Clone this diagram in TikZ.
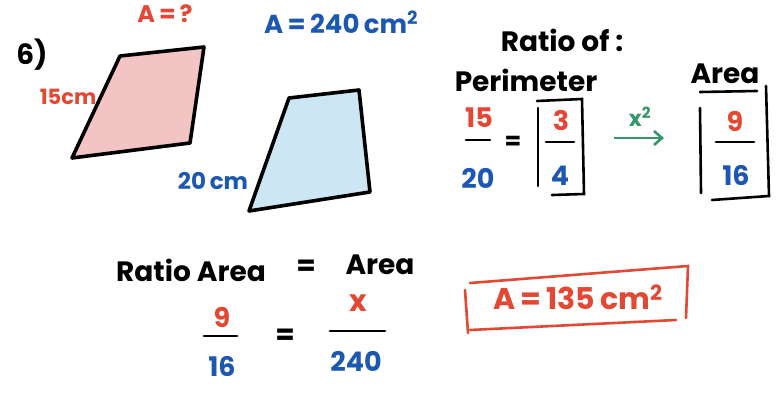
\documentclass[tikz,border=0pt]{standalone}
\usepackage{fontspec}
\setmainfont{Poppins}
\usetikzlibrary{arrows.meta}
\definecolor{mred}{RGB}{226,72,52}
\definecolor{mblue}{RGB}{28,88,178}
\definecolor{mgreen}{RGB}{52,150,104}
\definecolor{pinkfill}{RGB}{242,196,196}
\definecolor{bluefill}{RGB}{204,230,244}
\tikzset{
  txt/.style={inner sep=0pt, font=\fontsize{#1}{#1}\selectfont\bfseries},
  txt/.default=22,
  edge/.style={line width=3.6pt, line cap=round, line join=round},
  bar/.style={line width=2.8pt, line cap=round},
  boxline/.style={line width=2.6pt, line cap=round}
}
\begin{document}
\begin{tikzpicture}[x=1pt,y=-1pt]
\useasboundingbox (0,0) rectangle (784,398);
% shapes
\draw[edge, fill=pinkfill] (120,56) -- (204,47) -- (190,143) -- (72,158) -- cycle;
\draw[edge, fill=bluefill] (289,98) -- (359,90) -- (370,192) -- (249,211) -- cycle;
% labels
\node[txt=24, text=mred] (aq) at (165,14) {A\,=\,?};
\node[txt=26, text=mblue, anchor=west] (a240) at (264,22) {A\,=\,240\,cm\textsuperscript{2}};
\node[txt=28] (six) at (32,55) {6)};
\node[txt=21, text=mred] (l15) at (68,97) {15cm};
\node[txt=23, text=mblue] (l20) at (213,181) {20\,cm};
% ratio of
\node[txt=28] (ratioof) at (562,40) {Ratio of :};
\node[txt=28] (perim) at (526,80) {Perimeter};
\node[txt=28] (areat) at (725,74) {Area};
% 15/20
\node[txt=27, text=mred] (n15) at (479,118) {15};
\draw[bar] (466,140) -- (490,140);
\node[txt=27, text=mblue] (n20) at (478,178) {20};
\node[txt=24] (eq1) at (513,143) {=};
% boxed 3/4
\node[txt=27, text=mred] (n3) at (561,120) {3};
\draw[bar] (546,142) -- (574,142);
\node[txt=27, text=mblue] (n4) at (560,176) {4};
\draw[boxline] (537,101) -- (582,99) -- (584,194) -- (552,195);
\draw[boxline] (538,108) -- (538,186);
% arrow
\node[txt=22, text=mgreen] (xsq) at (640,117) {x\textsuperscript{2}};
\coordinate (arS) at (614,138);
\coordinate (arE) at (664,138);
\draw[mgreen, line width=2.6pt, -{Straight Barb[length=8pt,width=14pt]}] (arS) -- (arE);
% boxed 9/16
\node[txt=27, text=mred] (n9) at (735,121) {9};
\draw[bar] (716,142) -- (754,142);
\node[txt=27, text=mblue] (n16) at (736,175) {16};
\draw[boxline] (700,92) -- (757,91);
\draw[boxline] (700,108) -- (701,193);
\draw[boxline] (766,86) -- (769,196) -- (712,200);
% bottom equation
\node[txt=28] (ra) at (191,270) {Ratio Area};
\node[txt=28] (eq2) at (306,268) {=};
\node[txt=28] (ar2) at (380,265) {Area};
\node[txt=27, text=mred] (b9) at (222,317) {9};
\draw[bar] (204,336) -- (237,336);
\node[txt=27, text=mblue] (b16) at (222,366) {16};
\node[txt=28] (eq3) at (285,337) {=};
\node[txt=30, text=mred] (bx) at (358,303) {x};
\draw[bar] (330,331) -- (385,331);
\node[txt=27, text=mblue] (b240) at (356,361) {240};
% answer box
\node[txt=30, text=mred] (ans) at (578,297) {A\,=\,135\,cm\textsuperscript{2}};
\draw[mred, boxline] (470,283) -- (688,266) -- (686,318);
\draw[mred, boxline] (465,290) -- (468,333);
\draw[mred, boxline] (470,330) -- (676,320);
\end{tikzpicture}
\end{document}
